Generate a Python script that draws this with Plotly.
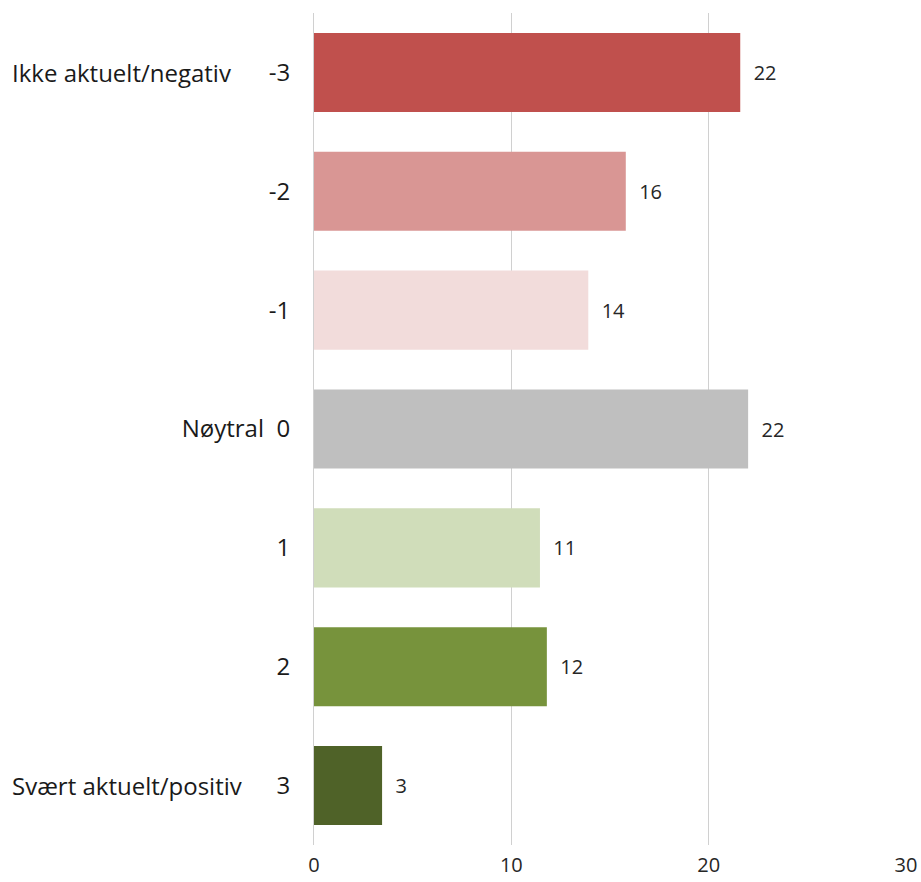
import plotly.graph_objects as go

categories = ["-3", "-2", "-1", "0", "1", "2", "3"]
values = [21.6, 15.8, 13.9, 22.0, 11.45, 11.8, 3.45]
labels = ["22", "16", "14", "22", "11", "12", "3"]
colors = ["#C0504D", "#D99694", "#F2DCDB", "#BFBFBF", "#D0DDBA", "#77933C", "#4F6228"]
tick_text = ["-3", "-2", "-1", "Nøytral  0", "1", "2", "3"]
side_names = [("-3", "Ikke aktuelt/negativ"), ("3", "Svært aktuelt/positiv")]
x_ticks = [0, 10, 20, 30]

font_family = "Open Sans, Liberation Sans, sans-serif"

fig = go.Figure(go.Bar(
    y=categories,
    x=values,
    orientation="h",
    marker=dict(color=colors, line=dict(width=0)),
    width=0.665,
    text=["\u00a0\u00a0" + t for t in labels],
    textposition="outside",
    textfont=dict(size=20, color="#262626", family=font_family),
    cliponaxis=False,
    hoverinfo="skip",
))

for cat, name in side_names:
    fig.add_annotation(
        x=0, xref="paper", y=categories.index(cat), yref="y",
        text=name, showarrow=False,
        xanchor="left", xshift=-304,
        font=dict(size=24, color="#1a1a1a", family=font_family),
    )

fig.update_layout(
    width=921, height=882,
    margin=dict(l=314, r=15, t=13, b=37, autoexpand=False),
    plot_bgcolor="white", paper_bgcolor="white",
    showlegend=False,
    bargap=0.335,
)
fig.update_xaxes(
    range=[0, 30], tickvals=x_ticks, showgrid=True, gridcolor="#D0D0D0", gridwidth=1,
    zeroline=False, showline=False, automargin=False,
    tickfont=dict(size=20, color="#262626", family=font_family),
    ticks="", ticklabelstandoff=6,
)
fig.update_yaxes(
    type="category",
    categoryorder="array", categoryarray=categories, autorange="reversed",
    tickvals=categories, ticktext=tick_text, automargin=False,
    tickfont=dict(size=24, color="#1a1a1a", family=font_family),
    showgrid=False, zeroline=False, showline=True, linecolor="#D0D0D0", linewidth=1,
    ticks="", ticklabelstandoff=18,
)

fig.write_html(
    "out.html",
    config={"displayModeBar": False},
    post_script="document.body.style.margin='0';document.body.style.padding='0';",
)
